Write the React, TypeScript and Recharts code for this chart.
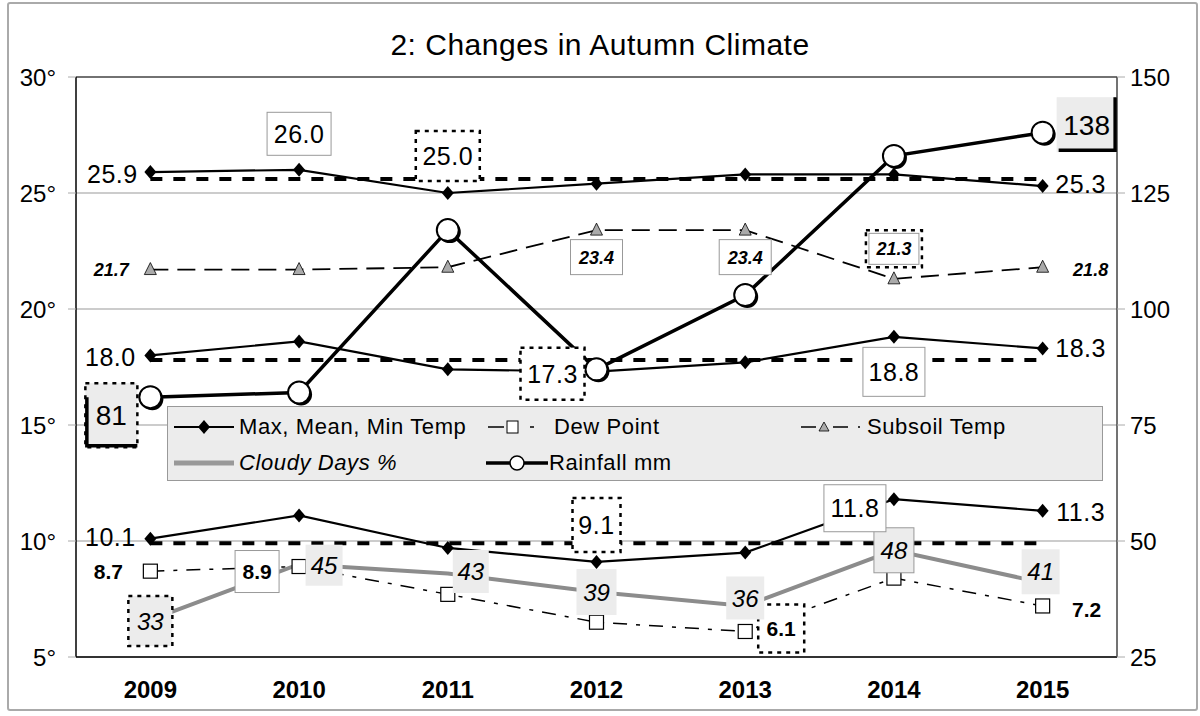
import React from "react";
import {
  LineChart,
  Line,
  XAxis,
  YAxis,
  CartesianGrid,
  LabelList,
  ReferenceLine,
} from "recharts";

// values
const YEARS = [2009, 2010, 2011, 2012, 2013, 2014, 2015];
const MAX_TEMP = [25.9, 26.0, 25.0, 25.4, 25.8, 25.8, 25.3];
const MEAN_TEMP = [18.0, 18.6, 17.4, 17.3, 17.7, 18.8, 18.3];
const MIN_TEMP = [10.1, 11.1, 9.7, 9.1, 9.5, 11.8, 11.3];
const DEW_POINT = [8.7, 8.9, 7.7, 6.5, 6.1, 8.4, 7.2];
const SUBSOIL = [21.7, 21.7, 21.8, 23.4, 23.4, 21.3, 21.8];
const CLOUDY = [33, 45, 43, 39, 36, 48, 41];
const RAINFALL = [81, 82, 117, 87, 103, 133, 138];

// long-term averages (dotted bars)
const MAX_AVG = 25.6;
const MEAN_AVG = 17.8;
const MIN_AVG = 9.9;

const TEMP_TICKS = [5, 10, 15, 20, 25, 30];
const TEMP_MINOR = [6, 7, 8, 9, 11, 12, 13, 14, 16, 17, 18, 19, 21, 22, 23, 24, 26, 27, 28, 29];
const RAIN_TICKS = [25, 50, 75, 100, 125, 150];
const RAIN_MINOR = [30, 35, 40, 45, 55, 60, 65, 70, 80, 85, 90, 95, 105, 110, 115, 120, 130, 135, 140, 145];
const YEAR_BOUNDS = [2008.5, 2009.5, 2010.5, 2011.5, 2012.5, 2013.5, 2014.5, 2015.5];

const data = YEARS.map((year, i) => ({
  year,
  max: MAX_TEMP[i],
  mean: MEAN_TEMP[i],
  min: MIN_TEMP[i],
  dew: DEW_POINT[i],
  subsoil: SUBSOIL[i],
  cloudy: CLOUDY[i],
  rain: RAINFALL[i],
}));

const FONT = "'Liberation Sans', Arial, sans-serif";

type BoxKind =
  | "solid"
  | "dotted"
  | "double"
  | "shade"
  | "shadeSolid"
  | "shadeDotted"
  | "shadowLeft"
  | "shadowRight";
type Spec = { dx: number; dy: number; w?: number; h?: number; box?: BoxKind };
type TextStyle = { size: number; weight?: string; italic?: boolean; digits: number; spacing?: number };

// label placement per point index
const MAX_LABELS: Record<number, Spec> = {
  0: { dx: -38, dy: 2 },
  1: { dx: 0, dy: -36, w: 64, h: 43, box: "solid" },
  2: { dx: 0, dy: -37, w: 64, h: 50, box: "dotted" },
  6: { dx: 38, dy: -2 },
};
const MEAN_LABELS: Record<number, Spec> = {
  0: { dx: -40, dy: 2 },
  3: { dx: -44, dy: 2, w: 64, h: 52, box: "dotted" },
  5: { dx: 0, dy: 35, w: 62, h: 49, box: "solid" },
  6: { dx: 38, dy: 0 },
};
const MIN_LABELS: Record<number, Spec> = {
  0: { dx: -40, dy: -2 },
  3: { dx: 0, dy: -37, w: 48, h: 54, box: "dotted" },
  5: { dx: -39, dy: 9, w: 62, h: 47, box: "solid" },
  6: { dx: 38, dy: 1 },
};
const DEW_LABELS: Record<number, Spec> = {
  0: { dx: -42, dy: 0 },
  1: { dx: -42, dy: 5, w: 44, h: 42, box: "solid" },
  4: { dx: 36, dy: -3, w: 46, h: 48, box: "dotted" },
  6: { dx: 44, dy: 3 },
};
const SUB_LABELS: Record<number, Spec> = {
  0: { dx: -39, dy: 0 },
  3: { dx: 0, dy: 27, w: 52, h: 35, box: "solid" },
  4: { dx: 0, dy: 27, w: 52, h: 35, box: "solid" },
  5: { dx: 0, dy: -30, w: 56, h: 37, box: "double" },
  6: { dx: 48, dy: 2 },
};
const CLOUDY_LABELS: Record<number, Spec> = {
  0: { dx: 0, dy: 1, w: 44, h: 50, box: "shadeDotted" },
  1: { dx: 25, dy: 1, w: 37, h: 41, box: "shade" },
  2: { dx: 23, dy: -2, w: 36, h: 43, box: "shade" },
  3: { dx: 0, dy: 0, w: 40, h: 46, box: "shade" },
  4: { dx: 0, dy: -8, w: 38, h: 43, box: "shade" },
  5: { dx: 0, dy: 0, w: 40, h: 45, box: "shadeSolid" },
  6: { dx: -2, dy: -11, w: 38, h: 45, box: "shade" },
};
const RAIN_LABELS: Record<number, Spec> = {
  0: { dx: -39, dy: 18, w: 52, h: 64, box: "shadowLeft" },
  6: { dx: 44, dy: -8, w: 60, h: 55, box: "shadowRight" },
};

const TEMP_TEXT: TextStyle = { size: 25, digits: 1, spacing: 0.5 };
const DEW_TEXT: TextStyle = { size: 21, weight: "bold", digits: 1 };
const SUB_TEXT: TextStyle = { size: 18, weight: "bold", italic: true, digits: 1 };
const CLOUDY_TEXT: TextStyle = { size: 24, italic: true, digits: 0 };
const RAIN_TEXT: TextStyle = { size: 28, digits: 0 };

const renderBox = (kind: BoxKind, x: number, y: number, w: number, h: number) => {
  const dotted = { stroke: "#000", strokeWidth: 2.5, strokeDasharray: "4 5" };
  switch (kind) {
    case "solid":
      return <rect x={x} y={y} width={w} height={h} fill="#fff" stroke="#999" />;
    case "dotted":
      return <rect x={x} y={y} width={w} height={h} fill="#fff" {...dotted} />;
    case "double":
      return (
        <g>
          <rect x={x} y={y} width={w} height={h} fill="#fff" {...dotted} />
          <rect x={x + 3} y={y + 3} width={w - 6} height={h - 6} fill="none" stroke="#999" />
        </g>
      );
    case "shade":
      return <rect x={x} y={y} width={w} height={h} fill="#ececec" />;
    case "shadeSolid":
      return <rect x={x} y={y} width={w} height={h} fill="#ececec" stroke="#999" />;
    case "shadeDotted":
      return <rect x={x} y={y} width={w} height={h} fill="#ececec" {...dotted} />;
    case "shadowLeft":
      return (
        <g>
          <rect x={x} y={y} width={w} height={h} fill="#ececec" {...dotted} />
          <path d={`M${x + 1.5},${y + 14}V${y + h - 1.5}H${x + w}`} fill="none" stroke="#000" strokeWidth={3.5} />
        </g>
      );
    case "shadowRight":
      return (
        <g>
          <rect x={x} y={y} width={w} height={h} fill="#ececec" />
          <path d={`M${x + 2},${y + h - 2}H${x + w - 1.5}V${y}`} fill="none" stroke="#000" strokeWidth={3.5} />
        </g>
      );
  }
  return null;
};

const makeLabel = (specs: Record<number, Spec>, style: TextStyle) => (p: any) => {
  const spec = specs[p.index];
  if (!spec || p.x == null || p.y == null) return null;
  const cx = p.x + spec.dx;
  const cy = p.y + spec.dy;
  return (
    <g key={`lbl-${p.index}`}>
      {spec.box && spec.w && spec.h
        ? renderBox(spec.box, cx - spec.w / 2, cy - spec.h / 2, spec.w, spec.h)
        : null}
      <text
        x={cx}
        y={cy}
        dy="0.36em"
        textAnchor="middle"
        fontFamily={FONT}
        fontSize={style.size}
        fontWeight={style.weight || "normal"}
        fontStyle={style.italic ? "italic" : "normal"}
        letterSpacing={style.spacing || 0}
        fill="#000"
      >
        {Number(p.value).toFixed(style.digits)}
      </text>
    </g>
  );
};

const Diamond = (p: any) => (
  <path
    key={`d-${p.index}`}
    d={`M${p.cx},${p.cy - 7}L${p.cx + 6},${p.cy}L${p.cx},${p.cy + 7}L${p.cx - 6},${p.cy}Z`}
    fill="#000"
  />
);
const Square = (p: any) => (
  <rect key={`s-${p.index}`} x={p.cx - 7} y={p.cy - 7} width={14} height={14} fill="#fff" stroke="#000" strokeWidth={1.2} />
);
const Triangle = (p: any) => (
  <path
    key={`t-${p.index}`}
    d={`M${p.cx},${p.cy - 7}L${p.cx + 6},${p.cy + 5}L${p.cx - 6},${p.cy + 5}Z`}
    fill="#aaa"
    stroke="#000"
    strokeWidth={0.8}
  />
);
const RainDot = (p: any) => (
  <g key={`r-${p.index}`}>
    <circle cx={p.cx + 2} cy={p.cy + 2} r={11} fill="#000" />
    <circle cx={p.cx} cy={p.cy} r={11} fill="#fff" stroke="#000" strokeWidth={2} />
  </g>
);

const axisTick = { fill: "#000", fontSize: 24, fontFamily: FONT };

const Legend = () => {
  const text = {
    position: "absolute" as const,
    fontSize: 22,
    lineHeight: "24px",
    letterSpacing: "0.6px",
    whiteSpace: "nowrap" as const,
  };
  return (
    <div
      style={{
        position: "absolute",
        left: 167,
        top: 406,
        width: 936,
        height: 75,
        boxSizing: "border-box",
        background: "#ececec",
        border: "1px solid #999",
        fontFamily: FONT,
        color: "#000",
      }}
    >
      <svg width={936} height={75} style={{ position: "absolute", left: 0, top: 0 }}>
        <line x1={6} y1={20} x2={66} y2={20} stroke="#000" strokeWidth={2} />
        <path d="M36,13L42,20L36,27L30,20Z" fill="#000" />
        <line x1={320} y1={20} x2={336} y2={20} stroke="#000" strokeWidth={1.5} />
        <rect x={339} y={14} width={11} height={12} fill="#fff" stroke="#000" />
        <line x1={362} y1={20} x2={366} y2={20} stroke="#000" strokeWidth={1.5} />
        <line x1={633} y1={20} x2={648} y2={20} stroke="#000" strokeWidth={1.5} />
        <path d="M656,15L661,24L651,24Z" fill="#aaa" stroke="#000" strokeWidth={0.8} />
        <line x1={665} y1={20} x2={680} y2={20} stroke="#000" strokeWidth={1.5} />
        <line x1={690} y1={20} x2={692} y2={20} stroke="#000" strokeWidth={1.5} />
        <line x1={6} y1={56} x2={66} y2={56} stroke="#999" strokeWidth={5} />
        <line x1={318} y1={56} x2={380} y2={56} stroke="#000" strokeWidth={3.5} />
        <circle cx={349} cy={56} r={7} fill="#fff" stroke="#000" strokeWidth={1.5} />
      </svg>
      <span style={{ ...text, left: 71, top: 8 }}>Max, Mean, Min Temp</span>
      <span style={{ ...text, left: 386, top: 8 }}>Dew Point</span>
      <span style={{ ...text, left: 699, top: 8 }}>Subsoil Temp</span>
      <span style={{ ...text, left: 71, top: 44, fontStyle: "italic" }}>Cloudy Days %</span>
      <span style={{ ...text, left: 381, top: 44 }}>Rainfall mm</span>
    </div>
  );
};

export default function App() {
  return (
    <div style={{ position: "absolute", left: 0, top: 0, width: 1200, height: 716, background: "#fff" }}>
      <div
        style={{
          position: "absolute",
          left: 7,
          top: 2,
          width: 1191,
          height: 709,
          boxSizing: "border-box",
          border: "2px solid #aaa",
          borderRadius: 3,
        }}
      />
      <div
        style={{
          position: "absolute",
          top: 27,
          left: 0,
          width: 1200,
          textAlign: "center",
          fontFamily: FONT,
          fontSize: 30,
          lineHeight: "36px",
          letterSpacing: "0.5px",
          color: "#000",
        }}
      >
        2: Changes in Autumn Climate
      </div>
      <div style={{ position: "absolute", left: 0, top: 0 }}>
        <LineChart width={1200} height={716} data={data} margin={{ top: 77, right: 13, bottom: 13, left: 6 }}>
          <CartesianGrid xAxisId="years" yAxisId="left" vertical={false} stroke="#999" />
          <XAxis
            xAxisId="bounds"
            type="number"
            dataKey="year"
            domain={[2008.5, 2015.5]}
            ticks={YEAR_BOUNDS}
            interval={0}
            tick={false}
            tickSize={7}
            height={1}
            axisLine={{ stroke: "#000", strokeWidth: 1.5 }}
            tickLine={{ stroke: "#555" }}
          />
          <XAxis
            xAxisId="years"
            type="number"
            dataKey="year"
            domain={[2008.5, 2015.5]}
            ticks={YEARS}
            interval={0}
            tickLine={false}
            axisLine={false}
            tickSize={0}
            tickMargin={23}
            height={45}
            tick={{ ...axisTick, fontWeight: "bold" }}
          />
          <YAxis
            yAxisId="left"
            domain={[5, 30]}
            ticks={TEMP_TICKS}
            interval={0}
            width={70}
            tickSize={8}
            tickMargin={12}
            tickFormatter={(v) => `${v}°`}
            tick={axisTick}
            axisLine={{ stroke: "#000", strokeWidth: 1.5 }}
            tickLine={{ stroke: "#aaa" }}
          />
          <YAxis
            yAxisId="leftMinor"
            mirror
            domain={[5, 30]}
            ticks={TEMP_MINOR}
            interval={0}
            width={0}
            tick={false}
            tickSize={6}
            axisLine={false}
            tickLine={{ stroke: "#444" }}
          />
          <YAxis
            yAxisId="right"
            orientation="right"
            domain={[25, 150]}
            ticks={RAIN_TICKS}
            interval={0}
            width={70}
            tickSize={8}
            tickMargin={5}
            tick={axisTick}
            axisLine={{ stroke: "#444", strokeWidth: 1.5 }}
            tickLine={{ stroke: "#aaa" }}
          />
          <YAxis
            yAxisId="rightMinor"
            orientation="right"
            mirror
            domain={[25, 150]}
            ticks={RAIN_MINOR}
            interval={0}
            width={0}
            tick={false}
            tickSize={6}
            axisLine={false}
            tickLine={{ stroke: "#444" }}
          />
          <ReferenceLine yAxisId="left" xAxisId="years" y={30} stroke="#555" strokeWidth={1.5} />
          {[MAX_AVG, MEAN_AVG, MIN_AVG].map((avg) => (
            <ReferenceLine
              key={avg}
              yAxisId="left"
              xAxisId="years"
              segment={[
                { x: YEARS[0], y: avg },
                { x: YEARS[YEARS.length - 1], y: avg },
              ]}
              stroke="#000"
              strokeWidth={4}
              strokeDasharray="12 11"
            />
          ))}
          <Line
            yAxisId="left"
            xAxisId="years"
            dataKey="subsoil"
            stroke="#000"
            strokeWidth={1.8}
            strokeDasharray="18 9"
            dot={Triangle}
            isAnimationActive={false}
          >
            <LabelList dataKey="subsoil" content={makeLabel(SUB_LABELS, SUB_TEXT)} />
          </Line>
          <Line
            yAxisId="left"
            xAxisId="years"
            dataKey="dew"
            stroke="#000"
            strokeWidth={1.5}
            strokeDasharray="14 9 4 9"
            dot={Square}
            isAnimationActive={false}
          >
            <LabelList dataKey="dew" content={makeLabel(DEW_LABELS, DEW_TEXT)} />
          </Line>
          <Line
            yAxisId="right"
            xAxisId="years"
            dataKey="cloudy"
            stroke="#8c8c8c"
            strokeWidth={4}
            dot={false}
            isAnimationActive={false}
          >
            <LabelList dataKey="cloudy" content={makeLabel(CLOUDY_LABELS, CLOUDY_TEXT)} />
          </Line>
          <Line yAxisId="left" xAxisId="years" dataKey="min" stroke="#000" strokeWidth={2.2} dot={Diamond} isAnimationActive={false}>
            <LabelList dataKey="min" content={makeLabel(MIN_LABELS, TEMP_TEXT)} />
          </Line>
          <Line yAxisId="left" xAxisId="years" dataKey="mean" stroke="#000" strokeWidth={2.2} dot={Diamond} isAnimationActive={false}>
            <LabelList dataKey="mean" content={makeLabel(MEAN_LABELS, TEMP_TEXT)} />
          </Line>
          <Line yAxisId="left" xAxisId="years" dataKey="max" stroke="#000" strokeWidth={2.2} dot={Diamond} isAnimationActive={false}>
            <LabelList dataKey="max" content={makeLabel(MAX_LABELS, TEMP_TEXT)} />
          </Line>
          <Line yAxisId="right" xAxisId="years" dataKey="rain" stroke="#000" strokeWidth={3.5} dot={RainDot} isAnimationActive={false}>
            <LabelList dataKey="rain" content={makeLabel(RAIN_LABELS, RAIN_TEXT)} />
          </Line>
        </LineChart>
      </div>
      <Legend />
    </div>
  );
}
